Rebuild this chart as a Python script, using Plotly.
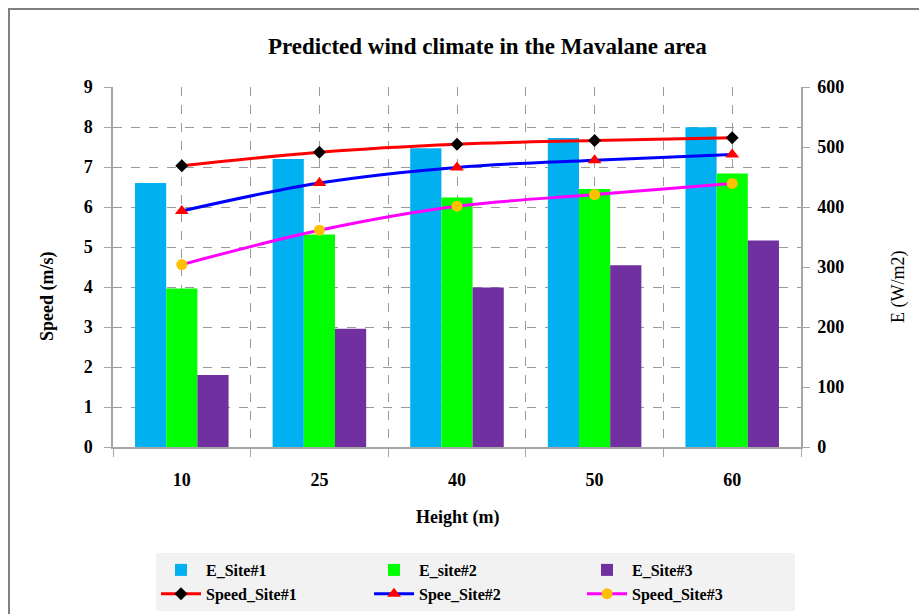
import plotly.graph_objects as go

# Hub heights (m) and site data
heights = ["10", "25", "40", "50", "60"]

e_site1 = [440, 480, 498, 515, 533]
e_site2 = [264, 354, 416, 430, 456]
e_site3 = [120, 197, 266, 303, 344]

speed_site1 = [7.03, 7.37, 7.57, 7.66, 7.73]
speed_site2 = [5.90, 6.60, 6.99, 7.17, 7.31]
speed_site3 = [4.56, 5.42, 6.02, 6.31, 6.59]

x = list(range(len(heights)))

SERIF = "Liberation Serif, Times New Roman, serif"
GRID = "#9a9a9a"
AXIS = "#a6a6a6"

fig = go.Figure()

# Energy density bars (E axis, right side)
for name, vals, col in [
    ("E_Site#1", e_site1, "#00B0F0"),
    ("E_site#2", e_site2, "#00FF00"),
    ("E_Site#3", e_site3, "#7030A0"),
]:
    fig.add_trace(go.Bar(x=x, y=vals, name=name, marker_color=col,
                         marker_line_width=0, yaxis="y"))

# Mean wind speed lines (Speed axis, left side)
for name, vals, lcol, sym, mcol, msize in [
    ("Speed_Site#1", speed_site1, "#FF0000", "diamond", "#000000", 10),
    ("Spee_Site#2", speed_site2, "#0000FF", "triangle-up", "#FF0000", 12),
    ("Speed_Site#3", speed_site3, "#FF00FF", "circle", "#FFC000", 11),
]:
    fig.add_trace(go.Scatter(x=x, y=vals, name=name, mode="lines+markers",
                             line=dict(color=lcol, width=3, shape="spline"),
                             marker=dict(symbol=sym, color=mcol, size=msize),
                             yaxis="y2"))

# Plot area spans 113..801 px horizontally and 87..447 px vertically
W, H = 919, 614
L, R, T, B = 113, 801, 87, 447
pw, ph = R - L, B - T


def px(v):
    return (v - L) / pw


def py(v):
    return (B - v) / ph


fig.update_layout(
    width=W, height=H,
    margin=dict(l=L, r=W - R, t=T, b=H - B, autoexpand=False),
    paper_bgcolor="white", plot_bgcolor="white",
    font=dict(family=SERIF, size=16, color="black"),
    barmode="group", bargap=0.32, bargroupgap=0,
    showlegend=True,
    legend=dict(
        orientation="h", x=px(156), y=py(553), xanchor="left", yanchor="top",
        bgcolor="#f2f2f2", entrywidth=158, entrywidthmode="pixels",
        font=dict(family=SERIF, size=16, weight="bold"),
        tracegroupgap=0, itemwidth=40,
    ),
    xaxis=dict(
        range=[-0.5, len(heights) - 0.5],
        tickmode="array", tickvals=x, ticktext=heights,
        ticks="", ticklabelstandoff=16,
        showgrid=True, gridcolor=GRID, griddash="dash", gridwidth=1,
        showline=True, linecolor=AXIS, linewidth=1.5,
        zeroline=False,
        tickfont=dict(family=SERIF, size=18, weight="bold"),
        minor=dict(tickmode="linear", tick0=0.5, dtick=1, ticks="outside",
                   ticklen=8, tickcolor=AXIS, showgrid=True,
                   gridcolor=GRID, griddash="dash", gridwidth=1),
    ),
    yaxis=dict(
        side="right", range=[0, 600], dtick=100,
        ticks="outside", ticklen=7, tickcolor=AXIS,
        showline=True, linecolor=AXIS, linewidth=1.5,
        showgrid=False, zeroline=False,
        tickfont=dict(family=SERIF, size=18, weight="bold"),
        ticklabelstandoff=4,
    ),
    yaxis2=dict(
        side="left", overlaying="y", range=[0, 9], dtick=1,
        ticks="outside", ticklen=7, tickcolor=AXIS,
        showline=True, linecolor=AXIS, linewidth=1.5,
        showgrid=True, gridcolor=GRID, griddash="dash", gridwidth=1,
        zeroline=False,
        tickfont=dict(family=SERIF, size=18, weight="bold"),
        ticklabelstandoff=8,
    ),
    annotations=[
        dict(text="Predicted wind climate in the Mavalane area",
             xref="paper", yref="paper", x=px(487), y=py(47),
             showarrow=False, xanchor="center", yanchor="middle",
             font=dict(family=SERIF, size=23, weight="bold")),
        dict(text="Speed (m/s)", xref="paper", yref="paper",
             x=px(47), y=py(296), textangle=-90, showarrow=False,
             xanchor="center", yanchor="middle",
             font=dict(family=SERIF, size=18, weight="bold")),
        dict(text="E (W/m2)", xref="paper", yref="paper",
             x=px(898), y=py(287), textangle=-90, showarrow=False,
             xanchor="center", yanchor="middle",
             font=dict(family=SERIF, size=18)),
        dict(text="Height (m)", xref="paper", yref="paper",
             x=px(457), y=py(517), showarrow=False,
             xanchor="center", yanchor="middle",
             font=dict(family=SERIF, size=18, weight="bold")),
    ],
    shapes=[
        # chart frame
        dict(type="rect", xref="paper", yref="paper",
             x0=px(9), x1=px(940), y0=py(640), y1=py(9),
             line=dict(color="#808080", width=2), fillcolor="rgba(0,0,0,0)",
             layer="below"),
    ],
)

fig.write_html("out.html")
